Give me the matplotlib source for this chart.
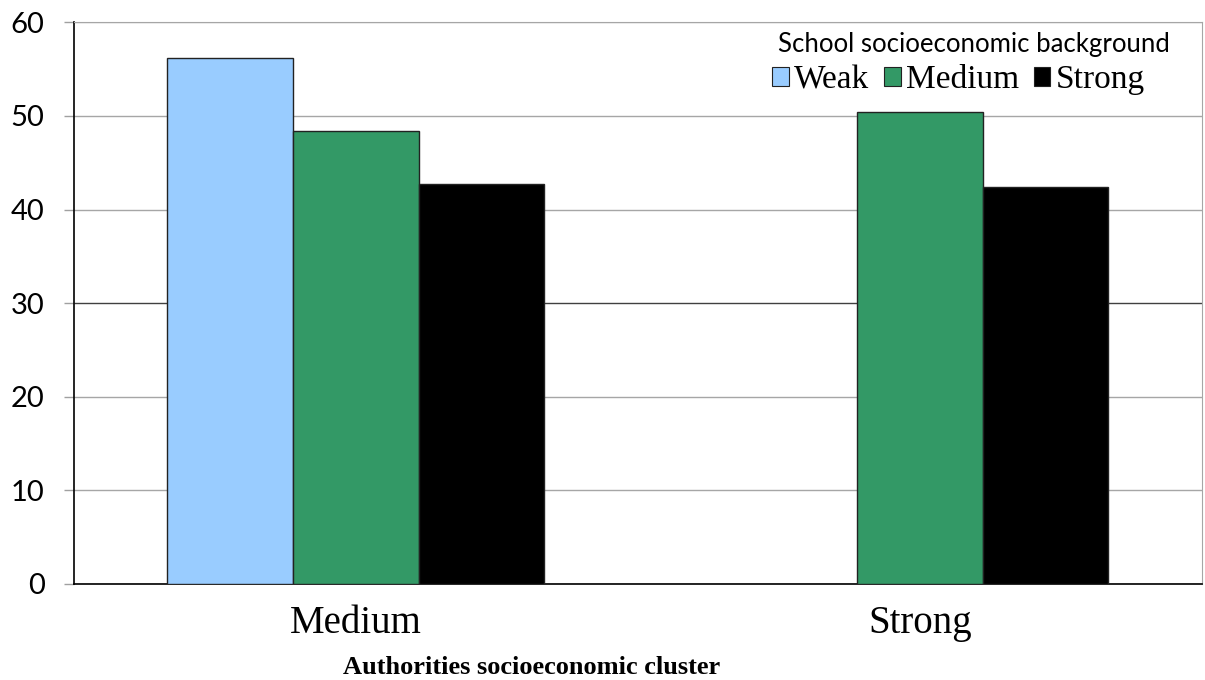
import numpy as np
import matplotlib
matplotlib.use("Agg")
import matplotlib.pyplot as plt
from matplotlib.patches import Patch

# Authority clusters on the x axis, school background as the bar series
clusters = ["Medium", "Strong"]
series_names = ["Weak", "Medium", "Strong"]
weak_vals = [56.2, np.nan]
medium_vals = [48.4, 50.4]
strong_vals = [42.7, 42.4]
yticks = [0, 10, 20, 30, 40, 50, 60]

colors = ["#99CCFF", "#339966", "#000000"]

W, H = 1205, 680
fig = plt.figure(figsize=(W / 100, H / 100), dpi=100)
ax = fig.add_axes([0.0612, 0.1412, 0.9361, 0.826])

x = np.arange(len(clusters))
w = 0.223
for i, (vals, c, name) in enumerate(zip([weak_vals, medium_vals, strong_vals], colors, series_names)):
    ax.bar(x + (i - 1) * w, vals, width=w, color=c, edgecolor="#222222",
           linewidth=1.0, label=name, zorder=3)

ax.set_xlim(-0.5, 1.5)
ax.set_ylim(0, 60)
ax.set_yticks(yticks)
ax.set_yticklabels([str(t) for t in yticks], fontfamily="Lato", fontsize=21)
ax.set_xticks(x)
ax.set_xticklabels(clusters, fontfamily="Liberation Serif", fontsize=28)
ax.tick_params(axis="x", length=0, pad=15)
ax.tick_params(axis="y", length=7, color="#a0a0a0", width=1.0, pad=14)

ax.grid(axis="y", color="#a6a6a6", linewidth=1.0, zorder=0)
ax.set_axisbelow(True)
for gl, t in zip(ax.yaxis.get_gridlines(), yticks):
    if t == 30:
        gl.set_color("#404040")

ax.spines["left"].set_color("black")
ax.spines["left"].set_linewidth(1.2)
ax.spines["bottom"].set_color("black")
ax.spines["bottom"].set_linewidth(1.2)
ax.spines["top"].set_color("#a6a6a6")
ax.spines["right"].set_color("#a6a6a6")

fig.text(532 / W, 6 / H, "Authorities socioeconomic cluster",
         fontfamily="Liberation Serif", fontweight="bold", fontsize=19,
         ha="center", va="baseline")

# legend: title line and one row of entries
fig.text(778 / W, 1 - 52 / H, "School socioeconomic background",
         fontfamily="Lato", fontsize=18.5, ha="left", va="baseline")

handles = [Patch(facecolor=c, edgecolor="#222222", linewidth=0.8) for c in colors]
leg = fig.legend(handles, series_names, ncol=3, loc="center left",
                 bbox_to_anchor=(772 / W, 1 - 80 / H), frameon=False,
                 prop={"family": "Liberation Serif", "size": 24},
                 handlelength=0.5, handleheight=0.5, handletextpad=0.15,
                 columnspacing=0.45, borderpad=0.0, borderaxespad=0.0)

fig.savefig("out.png", dpi=100, facecolor="white")
